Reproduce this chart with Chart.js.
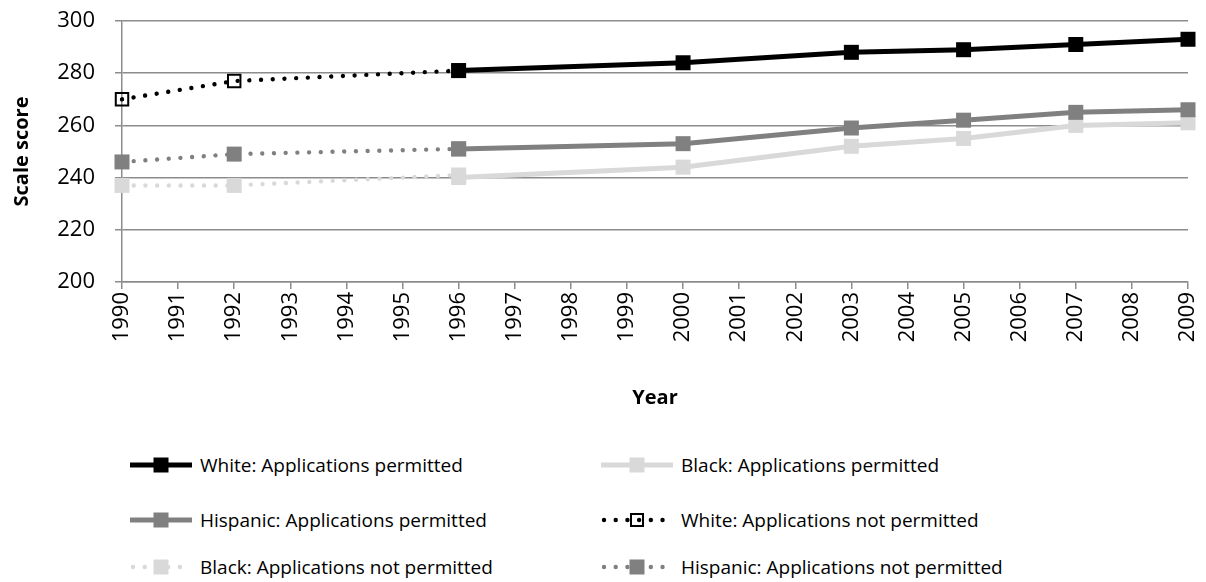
<!DOCTYPE html>
<html>
<head>
<meta charset="utf-8">
<script src="https://cdn.jsdelivr.net/npm/chart.js@4/dist/chart.umd.min.js"></script>
<style>
  html, body { margin: 0; padding: 0; background: #fff; }
  #wrap { position: relative; width: 1206px; height: 582px; font-family: "Open Sans", sans-serif; }
  #c { position: absolute; left: 0; top: 0; }
  .leg { position: absolute; display: flex; align-items: center; font-size: 19px; color: #000; white-space: nowrap; }
  .leg svg { display: block; margin-right: 8px; }
</style>
</head>
<body>
<div id="wrap">
  <canvas id="c" width="1206" height="410"></canvas>
  <div id="legend"></div>
</div>
<script>
// ---- data ----
const yearsPermitted = [1996, 2000, 2003, 2005, 2007, 2009];
const yearsNotPermitted = [1990, 1992, 1996];
const whitePermitted = [281, 284, 288, 289, 291, 293];
const blackPermitted = [240, 244, 252, 255, 260, 261];
const hispanicPermitted = [251, 253, 259, 262, 265, 266];
const whiteNotPermitted = [270, 277, 281];
const blackNotPermitted = [237, 237, 241];
const hispanicNotPermitted = [246, 249, 251];
const seriesNames = [
  "White: Applications permitted",
  "Black: Applications permitted",
  "Hispanic: Applications permitted",
  "White: Applications not permitted",
  "Black: Applications not permitted",
  "Hispanic: Applications not permitted"
];
const xMin = 1990, xMax = 2009;
const yMin = 200, yMax = 300, yStep = 20;

const COL_WHITE = "#000000", COL_BLACK = "#d9d9d9", COL_HISP = "#808080";
const GRID = "#8c8c8c";
const FONT = "'Open Sans', sans-serif";

function pts(xs, ys) { return xs.map((x, i) => ({ x: x, y: ys[i] })); }

const DOT = [0.01, 11.7];
const specs = [
  { name: seriesNames[0], data: pts(yearsPermitted, whitePermitted), color: COL_WHITE, dashed: false, hollow: false },
  { name: seriesNames[1], data: pts(yearsPermitted, blackPermitted), color: COL_BLACK, dashed: false, hollow: false },
  { name: seriesNames[2], data: pts(yearsPermitted, hispanicPermitted), color: COL_HISP, dashed: false, hollow: false },
  { name: seriesNames[3], data: pts(yearsNotPermitted, whiteNotPermitted), color: COL_WHITE, dashed: true, hollow: true },
  { name: seriesNames[4], data: pts(yearsNotPermitted, blackNotPermitted), color: COL_BLACK, dashed: true, hollow: false },
  { name: seriesNames[5], data: pts(yearsNotPermitted, hispanicNotPermitted), color: COL_HISP, dashed: true, hollow: false }
];

const datasets = specs.map((s, i) => ({
  label: s.name,
  data: s.data,
  borderColor: s.color,
  backgroundColor: s.hollow ? "rgba(0,0,0,0)" : s.color,
  borderWidth: s.dashed ? 4.4 : 5,
  borderDash: s.dashed ? DOT : [],
  borderCapStyle: s.dashed ? "round" : "butt",
  pointStyle: "rect",
  pointRadius: s.hollow ? 8.8 : 10.6,
  pointBorderWidth: s.hollow ? 2 : 0,
  pointBorderColor: s.color,
  pointBackgroundColor: s.hollow ? "rgba(255,255,255,0)" : s.color,
  tension: 0,
  clip: false,
  order: 6 - i
}));

const chart = new Chart(document.getElementById("c"), {
  type: "line",
  data: { datasets: datasets },
  options: {
    responsive: false,
    animation: false,
    events: [],
    layout: { padding: { left: 10, right: 0, top: 21, bottom: 0 } },
    plugins: { legend: { display: false }, tooltip: { enabled: false } },
    scales: {
      x: {
        type: "linear",
        min: xMin, max: xMax,
        ticks: {
          stepSize: 1,
          autoSkip: false,
          maxRotation: 90, minRotation: 90,
          color: "#000",
          font: { family: FONT, size: 22 },
          padding: 3,
          callback: v => String(v)
        },
        grid: { drawOnChartArea: false, drawTicks: true, tickLength: 7, color: GRID, lineWidth: 1.5 },
        border: { color: GRID, width: 1.5 },
        title: { display: true, text: "Year", color: "#000", font: { family: FONT, size: 20, weight: "bold" }, padding: { top: 20, bottom: 0 } },
        afterFit: s => { s.height = 128; s.paddingRight = 18; s.paddingLeft = 0; s.paddingTop = 0; s.paddingBottom = 0; }
      },
      y: {
        min: yMin, max: yMax,
        ticks: { stepSize: yStep, color: "#000", font: { family: FONT, size: 22 }, padding: 20 },
        grid: { color: GRID, lineWidth: 1.5, tickLength: 7 },
        border: { color: GRID, width: 1.5 },
        title: { display: true, text: "Scale score", color: "#000", font: { family: FONT, size: 20, weight: "bold" }, padding: { top: 0, bottom: 6 } },
        afterFit: s => { s.width = 112; s.paddingTop = 0; s.paddingBottom = 0; s.paddingLeft = 0; s.paddingRight = 0; }
      }
    }
  }
});

// ---- HTML legend ----
const legendPos = [
  { left: 130, top: 452, w: 62 },
  { left: 601, top: 452, w: 72 },
  { left: 130, top: 507, w: 62 },
  { left: 601, top: 507, w: 72 },
  { left: 130, top: 554, w: 62 },
  { left: 601, top: 554, w: 72 }
];
const legendEl = document.getElementById("legend");
specs.forEach((s, i) => {
  const p = legendPos[i];
  const w = p.w, h = 26, cy = h / 2, cx = w / 2;
  let line;
  if (s.dashed) {
    line = `<line x1="3" y1="${cy}" x2="${w - 3}" y2="${cy}" stroke="${s.color}" stroke-width="4.4" stroke-linecap="round" stroke-dasharray="0.01 11.7"/>`;
  } else {
    line = `<line x1="0" y1="${cy}" x2="${w}" y2="${cy}" stroke="${s.color}" stroke-width="5" stroke-linecap="round"/>`;
  }
  const m = s.hollow
    ? `<rect x="${cx - 6}" y="${cy - 6}" width="12" height="12" fill="none" stroke="${s.color}" stroke-width="2"/>`
    : `<rect x="${cx - 7.5}" y="${cy - 7.5}" width="15" height="15" fill="${s.color}"/>`;
  const div = document.createElement("div");
  div.className = "leg";
  div.style.left = p.left + "px";
  div.style.top = p.top + "px";
  div.innerHTML = `<svg width="${w}" height="${h}">${line}${m}</svg><span>${s.name}</span>`;
  legendEl.appendChild(div);
});
</script>
</body>
</html>
